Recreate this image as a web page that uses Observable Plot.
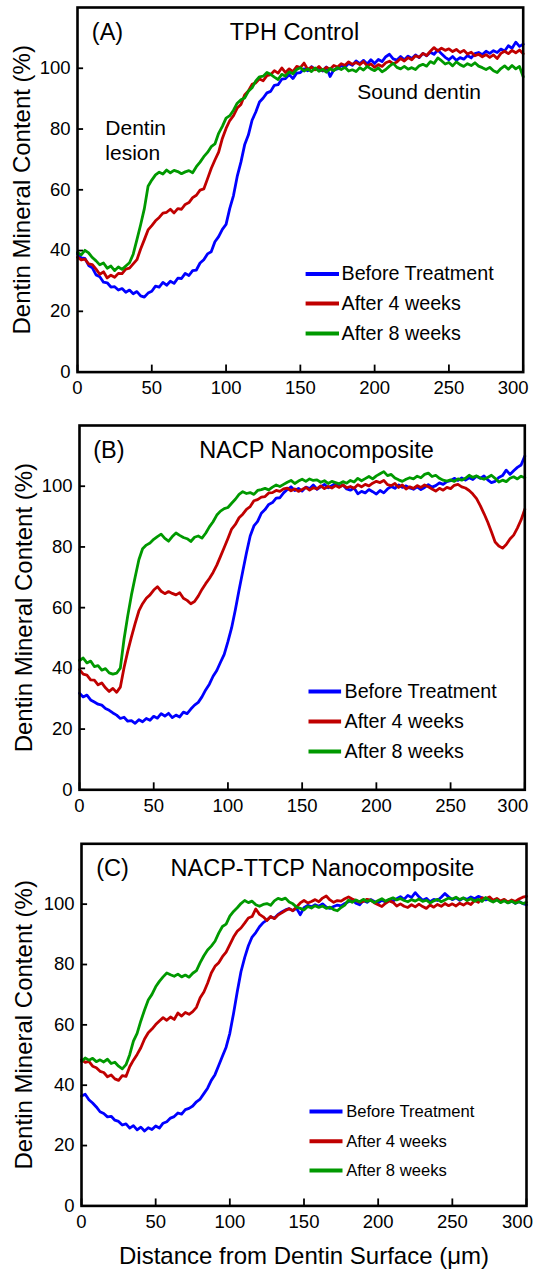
<!DOCTYPE html>
<html><head><meta charset="utf-8">
<script src="https://cdn.jsdelivr.net/npm/d3@7"></script>
<script src="https://cdn.jsdelivr.net/npm/@observablehq/plot@0.6"></script>
<style>
html,body{margin:0;padding:0;background:#fff;}
#chart{width:536px;}
#chart svg{display:block;overflow:visible;}
</style></head><body><div id="chart"></div>
<script>
// ---------- data ----------
const step = 2.5; // sampling interval (µm); values below start at x = 0
const seriesNames = ["Before Treatment", "After 4 weeks", "After 8 weeks"];
const seriesColors = ["#0000ff", "#c00000", "#009900"];
const xTicks = [0, 50, 100, 150, 200, 250, 300];
const yTicks = [0, 20, 40, 60, 80, 100];
const panelLetters = ["(A)", "(B)", "(C)"];
const panelTitles = ["TPH Control", "NACP Nanocomposite", "NACP-TTCP Nanocomposite"];
const annotationsA = ["Dentin", "lesion", "Sound dentin"];
const xLabel = "Distance from Dentin Surface (\u03bcm)";
const yLabel = "Dentin Mineral Content (%)";

const A_before = [
  38.9, 37.6, 37.4, 35.1, 34.3, 32.0, 31.4, 29.6, 29.4, 28.0,
  28.1, 27.0, 27.5, 26.3, 27.0, 25.8, 26.5, 25.1, 24.7, 26.0,
  26.6, 28.3, 28.0, 29.5, 28.6, 29.9, 29.2, 30.9, 30.8, 32.5,
  31.8, 33.4, 33.6, 35.9, 37.0, 38.9, 39.6, 42.9, 44.6, 47.0,
  48.6, 53.9, 58.1, 64.4, 69.1, 74.8, 78.0, 82.9, 85.6, 88.9,
  90.2, 91.9, 92.4, 94.4, 94.6, 96.4, 96.6, 97.9, 96.6, 98.4,
  98.6, 99.8, 99.2, 100.5, 99.6, 100.2, 99.1, 100.4, 97.3, 99.5,
  99.8, 100.9, 100.3, 101.6, 101.0, 102.4, 101.5, 102.6, 101.4, 102.8,
  101.6, 102.9, 102.2, 103.8, 104.6, 103.1, 102.7, 103.9, 102.8, 104.0,
  103.2, 104.4, 103.5, 104.9, 104.1, 105.3, 104.6, 106.0, 104.8, 103.6,
  102.8, 103.9, 102.6, 103.5, 103.0, 104.2, 103.4, 104.8, 105.2, 104.5,
  105.6, 104.9, 105.8, 105.2, 106.3, 105.7, 107.4, 106.6, 108.6, 107.2,
  107.9];
const A_week4 = [
  37.8, 36.9, 37.2, 35.6, 35.4, 33.9, 32.2, 33.0, 31.0, 31.9,
  31.2, 32.5, 32.4, 33.9, 34.2, 35.6, 37.0, 40.5, 43.6, 46.8,
  48.2, 49.8, 50.9, 52.3, 52.6, 53.6, 52.4, 53.8, 53.6, 55.2,
  55.8, 57.4, 58.2, 59.9, 60.3, 63.6, 67.0, 69.8, 72.4, 76.9,
  80.2, 82.8, 84.4, 86.9, 88.1, 91.2, 92.5, 94.7, 95.2, 96.5,
  95.9, 97.6, 97.9, 99.2, 98.4, 100.1, 98.6, 99.8, 98.9, 100.6,
  100.2, 101.7, 99.6, 100.4, 99.5, 100.6, 99.3, 100.3, 99.7, 100.9,
  100.4, 101.5, 101.0, 102.1, 101.3, 101.9, 101.2, 102.2, 100.8, 101.4,
  100.3, 101.2, 100.6, 101.8, 102.3, 101.5, 102.1, 103.2, 102.4, 103.5,
  102.8, 104.1, 103.6, 104.9, 104.2, 105.6, 106.8, 105.7, 106.6, 105.9,
  106.4, 105.5, 106.2, 105.2, 105.9, 104.7, 105.3, 104.1, 104.6, 103.8,
  104.5, 103.6, 104.4, 103.2, 104.9, 105.6, 104.8, 105.9, 105.1, 106.0,
  104.8];
const A_week8 = [
  39.4, 38.6, 40.1, 39.2, 37.7, 36.6, 35.3, 35.9, 34.2, 34.9,
  33.4, 34.6, 33.8, 34.9, 36.0, 38.8, 43.6, 48.5, 53.8, 61.2,
  63.2, 64.9, 65.8, 65.2, 66.5, 65.6, 66.4, 66.0, 65.3, 65.9,
  66.3, 65.6, 67.6, 69.1, 70.9, 72.3, 74.2, 75.1, 78.6, 80.9,
  83.6, 84.4, 86.2, 88.5, 89.6, 90.2, 92.4, 93.6, 95.8, 97.2,
  97.4, 98.6, 98.0, 97.1, 96.3, 98.0, 97.4, 98.8, 98.2, 99.6,
  100.2, 99.1, 99.8, 98.9, 100.1, 99.0, 99.6, 98.7, 99.9, 99.2,
  100.2, 99.6, 100.3, 99.1, 99.5, 98.9, 100.2, 99.4, 100.6, 99.8,
  99.2, 100.1, 98.8, 99.6, 100.7, 101.6, 100.3, 99.8, 100.6, 99.7,
  100.2, 99.6, 100.8, 101.3, 100.7, 102.2, 101.6, 103.4, 102.5, 101.4,
  101.9, 100.8, 102.1, 101.2, 100.6, 101.5, 100.9, 101.8, 100.7, 100.2,
  99.6, 100.3, 99.2, 98.6, 99.9, 100.8, 99.7, 100.9, 99.8, 100.6,
  97.2];

const B_before = [
  31.8, 30.6, 31.2, 29.6, 28.9, 28.2, 27.9, 26.8, 26.2, 25.3,
  24.6, 23.5, 23.9, 22.6, 22.8, 21.9, 23.1, 22.4, 23.5, 22.9,
  24.2, 23.6, 25.1, 24.3, 25.2, 23.8, 24.6, 24.0, 25.6, 25.1,
  26.6, 27.9, 28.8, 30.6, 32.9, 34.8, 37.4, 39.3, 42.0, 44.6,
  48.8, 53.4, 59.3, 65.8, 72.0, 78.1, 83.6, 86.9, 88.4, 91.1,
  92.3, 94.0, 94.6, 96.1, 96.2, 97.8, 98.9, 99.8, 98.6, 99.3,
  98.4, 99.7, 99.2, 100.4, 99.0, 99.8, 100.6, 99.5, 100.2, 100.9,
  99.8, 100.4, 99.1, 98.7, 99.4, 97.5, 98.3, 97.8, 98.9, 98.2,
  97.4, 98.6, 97.8, 99.1, 99.9, 99.3, 100.4, 99.6, 100.1, 99.4,
  99.0, 99.8, 98.9, 99.6, 100.5, 99.7, 100.2, 101.1, 100.6, 101.5,
  101.8, 102.6, 101.9, 102.7, 102.0, 102.8, 102.2, 103.3, 102.6, 103.4,
  102.1, 101.2, 101.6, 102.9, 103.5, 105.3, 103.9, 105.1, 106.2, 107.0,
  109.9];
const B_week4 = [
  39.6, 38.1, 37.8, 36.2, 36.1, 34.6, 35.2, 33.6, 32.4, 33.4,
  32.1, 33.8, 40.2, 45.6, 50.4, 54.8, 58.9, 61.3, 63.1, 64.2,
  65.8, 66.9, 65.4, 64.6, 65.3, 64.7, 64.2, 64.9, 63.1, 62.4,
  61.3, 62.0, 63.8, 66.0, 67.9, 69.6, 71.6, 74.0, 76.9, 79.8,
  82.8, 85.9, 87.4, 89.6, 90.8, 92.4, 93.3, 95.2, 95.6, 96.4,
  96.6, 97.8, 97.9, 98.6, 98.3, 99.1, 99.4, 98.5, 99.1, 98.3,
  98.9, 99.6, 98.7, 99.5, 99.1, 100.1, 99.2, 99.9, 99.4, 100.2,
  99.6, 100.4, 99.5, 99.9, 99.3, 100.5, 99.8, 100.6, 100.1, 101.0,
  101.6, 101.2, 101.9, 100.5, 100.2, 100.9, 99.6, 100.4, 99.1, 99.8,
  99.3, 100.2, 99.6, 100.4, 99.8, 99.1, 98.4, 99.3, 98.7, 99.6,
  99.2, 100.3, 100.6, 99.8, 99.4, 98.6, 97.4, 95.9, 93.6, 91.0,
  88.2, 85.0, 81.6, 80.3, 79.6, 80.8, 82.6, 83.9, 86.2, 88.9,
  92.4];
const B_week8 = [
  42.6, 43.4, 41.8, 42.4, 40.6, 40.9, 39.4, 39.9, 38.5, 38.1,
  38.4, 40.1, 49.6, 57.3, 64.2, 70.1, 75.8, 79.4, 80.6, 81.3,
  82.5, 83.4, 84.2, 82.8, 81.9, 83.4, 84.6, 83.8, 83.1, 82.7,
  81.8, 83.2, 83.6, 82.9, 84.5, 86.6, 88.3, 90.5, 91.8, 92.6,
  93.0, 94.4, 95.7, 97.3, 98.2, 97.6, 97.9, 97.3, 98.6, 98.9,
  99.3, 98.8, 99.7, 100.4, 99.9, 100.6, 101.3, 101.9, 100.9, 101.7,
  102.3, 101.6, 102.4, 101.9, 102.1, 101.3, 101.8, 100.9, 101.6, 101.2,
  100.8, 101.5, 101.0, 101.9, 101.4, 102.6, 101.8, 102.5, 103.2, 102.4,
  103.4, 104.1, 104.8, 103.5, 103.9, 102.7, 102.1, 101.6, 102.3, 102.8,
  102.4, 103.3, 102.8, 103.9, 104.3, 103.2, 103.6, 102.6, 102.0, 101.7,
  102.1, 101.6, 102.4, 102.0, 102.6, 103.6, 102.9, 103.4, 102.7, 102.3,
  102.9, 103.6, 102.6, 101.4, 102.0, 101.5, 102.6, 103.1, 102.4, 103.3,
  102.8];

const C_before = [
  36.4, 37.0, 35.2, 34.1, 32.8, 31.2, 30.6, 29.5, 29.7, 28.4,
  28.0, 26.8, 27.2, 25.8, 26.6, 25.2, 26.1, 24.8, 25.9, 25.3,
  26.5, 25.8, 27.4, 27.9, 29.1, 29.6, 30.8, 30.4, 31.9, 32.3,
  33.1, 34.5, 35.4, 37.2, 39.0, 41.6, 43.5, 46.5, 49.6, 52.6,
  57.2, 63.8, 71.0, 77.6, 82.3, 86.2, 89.1, 90.6, 92.5, 93.9,
  94.7, 95.8, 95.3, 96.6, 97.4, 98.1, 98.5, 97.9, 98.6, 96.5,
  98.8, 99.6, 99.1, 99.8, 99.3, 100.1, 99.0, 98.6, 99.2, 99.7,
  99.4, 100.2, 100.8, 101.4, 100.3, 99.8, 101.2, 100.6, 101.5, 100.9,
  100.4, 101.3, 100.7, 101.6, 101.0, 101.8, 102.5, 101.6, 102.9, 102.2,
  103.8, 102.4, 101.3, 101.9, 100.8, 101.6, 101.2, 102.3, 103.5, 102.4,
  101.5, 102.1, 101.3, 102.0, 101.6, 102.4, 101.8, 102.6, 102.1, 101.4,
  101.9, 101.0, 101.6, 100.8, 101.3, 100.5, 101.0, 100.3, 100.9, 100.2,
  99.8];
const C_week4 = [
  48.4, 47.6, 47.9, 46.3, 45.8, 44.6, 44.2, 42.8, 43.4, 42.1,
  41.6, 43.2, 42.9, 46.1, 48.3, 50.2, 52.4, 55.3, 57.4, 58.6,
  60.1, 61.3, 62.4, 61.5, 62.6, 61.8, 63.9, 62.9, 64.1, 63.5,
  64.4, 65.8, 69.0, 70.9, 73.8, 77.2, 79.4, 80.6, 82.6, 84.1,
  86.6, 89.1, 91.0, 92.1, 93.7, 95.4, 95.9, 98.4, 96.6, 95.8,
  94.6, 95.9, 95.2, 96.4, 97.1, 97.9, 98.5, 97.8, 99.1, 100.4,
  101.2, 100.4, 100.9, 101.5, 100.8, 102.0, 102.7, 101.4, 100.6, 101.2,
  101.0, 101.8, 102.4, 101.7, 101.2, 100.6, 100.9, 101.6, 101.3, 100.4,
  99.8, 99.2, 100.3, 101.1, 100.6, 99.4, 100.1, 99.3, 98.9, 99.8,
  99.1, 100.0, 99.2, 98.6, 99.7, 99.0, 99.9, 99.3, 100.2, 99.5,
  100.1, 99.4, 100.3, 99.7, 100.5, 99.9, 101.2, 100.6, 102.1, 101.8,
  102.4, 101.3, 101.9, 101.0, 101.6, 100.7, 101.4, 100.9, 101.7, 102.3,
  102.6];
const C_week8 = [
  47.9, 49.0, 48.3, 48.9, 47.8, 48.4, 47.7, 48.6, 47.2, 47.6,
  46.3, 45.4, 46.8, 50.1, 54.6, 57.2, 61.3, 64.9, 68.2, 70.1,
  72.6, 74.4, 75.9, 77.2, 76.6, 76.1, 76.8, 75.9, 76.5, 75.8,
  77.1, 78.0, 80.6, 82.9, 84.8, 86.1, 87.7, 90.4, 92.6, 93.4,
  96.0, 97.6, 98.8, 100.2, 101.2, 100.5, 101.0, 99.8, 99.3, 99.9,
  100.2, 99.6, 101.1, 101.9, 101.5, 102.0, 100.7, 100.1, 99.0, 98.6,
  98.1, 99.2, 98.7, 99.5, 98.9, 99.4, 98.6, 99.0, 98.2, 97.8,
  98.9, 99.7, 101.3, 100.6, 101.4, 100.8, 101.6, 100.9, 101.3, 100.5,
  101.2, 101.8, 101.0, 101.6, 102.1, 101.4, 101.9, 101.2, 100.8, 101.5,
  101.0, 101.7, 100.9, 101.3, 100.4, 101.1, 101.6, 100.8, 101.4, 102.0,
  101.7, 102.3, 101.5, 102.1, 101.2, 101.8, 101.0, 101.6, 100.9, 102.2,
  101.3, 100.7, 101.4, 100.5, 101.1, 100.4, 101.0, 100.3, 100.8, 100.2,
  100.6];

const panelSeries = [
  [A_before, A_week4, A_week8],
  [B_before, B_week4, B_week8],
  [C_before, C_week4, C_week8]
];

// ---------- layout (pixels) ----------
const layouts = [
  {h: 418, ml: 77, mr: 13.3, mt: 7, mb: 46.4, lastDx: -10,
   letter: [30, 25], title: [217, 25], swatch: 244.8, half: 16.7, legText: 264, rows: [266.5, 296, 326], legSize: 19.7, yLabDx: -55},
  {h: 418, ml: 79, mr: 11.7, mt: 7, mb: 46.7, lastDx: -12,
   letter: [29.4, 25.3], title: [237, 25.3], swatch: 245.3, half: 16.3, legText: 265, rows: [266, 296, 326], legSize: 19.7, yLabDx: -55},
  {h: 437, ml: 81, mr: 10, mt: 7.3, mb: 67.6, lastDx: -9,
   letter: [31, 24.7], title: [241, 24.7], swatch: 244.5, half: 16.5, legText: 264.7, rows: [267.7, 297.4, 326.7], legSize: 16.6, yLabDx: -57}
];

const FONT = "'Liberation Sans', Arial, Helvetica, sans-serif";

function hLine(half) {
  return {draw(ctx) { ctx.moveTo(-half, 0); ctx.lineTo(half, 0); }};
}

function makePanel(i) {
  const L = layouts[i];
  const rows = [];
  panelSeries[i].forEach((vals, s) =>
    vals.forEach((v, k) => rows.push({x: k * step, y: v, s: seriesNames[s]})));
  const lastTick = xTicks[xTicks.length - 1];

  const marks = [
    Plot.ruleX(xTicks, {x: d => d, y1: 0, y2: 2.3, stroke: "black", strokeWidth: 1.8}),
    Plot.ruleY(yTicks, {y: d => d, x1: 0, x2: 4.1, stroke: "black", strokeWidth: 1.8}),
    Plot.axisX({ticks: xTicks.slice(0, -1), tickSize: 0, tickPadding: 9, fontSize: 18.5, label: null}),
    Plot.axisX({ticks: [lastTick], tickSize: 0, tickPadding: 9, fontSize: 18.5, label: null, dx: L.lastDx}),
    Plot.axisY({ticks: yTicks, tickSize: 0, tickPadding: 7, fontSize: 18.5, label: null}),
    Plot.line(rows, {x: "x", y: "y", z: "s", stroke: "s", strokeWidth: 2.8, strokeLinejoin: "round"}),
    Plot.frame({stroke: "black", strokeWidth: 2.6}),
    Plot.text([yLabel], {frameAnchor: "left", rotate: -90, dx: L.yLabDx, fontSize: 24, textAnchor: "middle", lineAnchor: "middle"}),
    Plot.text([panelLetters[i]], {frameAnchor: "top-left", dx: L.letter[0], dy: L.letter[1], fontSize: 23.5, textAnchor: "middle", lineAnchor: "middle"}),
    Plot.text([panelTitles[i]], {frameAnchor: "top-left", dx: L.title[0], dy: L.title[1], fontSize: 23.5, textAnchor: "middle", lineAnchor: "middle"})
  ];
  seriesNames.forEach((name, k) => {
    marks.push(Plot.dot([name], {frameAnchor: "top-left", dx: L.swatch, dy: L.rows[k], symbol: hLine(L.half), stroke: seriesColors[k], strokeWidth: 4, fill: "none", r: 5}));
    marks.push(Plot.text([name], {frameAnchor: "top-left", dx: L.legText, dy: L.rows[k], fontSize: L.legSize, textAnchor: "start", lineAnchor: "middle"}));
  });
  if (i === 0) {
    marks.push(Plot.text([annotationsA[0]], {frameAnchor: "top-left", dx: 27.8, dy: 120.5, fontSize: 21, textAnchor: "start", lineAnchor: "middle"}));
    marks.push(Plot.text([annotationsA[1]], {frameAnchor: "top-left", dx: 27.8, dy: 145.7, fontSize: 21, textAnchor: "start", lineAnchor: "middle"}));
    marks.push(Plot.text([annotationsA[2]], {frameAnchor: "top-left", dx: 279.7, dy: 85, fontSize: 21, textAnchor: "start", lineAnchor: "middle"}));
  }
  if (i === 2) {
    marks.push(Plot.text([xLabel], {frameAnchor: "bottom", dy: 50.6, fontSize: 24, textAnchor: "middle", lineAnchor: "middle"}));
  }

  return Plot.plot({
    width: 536,
    height: L.h,
    marginLeft: L.ml, marginRight: L.mr, marginTop: L.mt, marginBottom: L.mb,
    style: {fontFamily: FONT, color: "black", background: "white", overflow: "visible"},
    x: {domain: [0, 300]},
    y: {domain: [0, 120]},
    color: {domain: seriesNames, range: seriesColors},
    marks
  });
}

const root = document.getElementById("chart");
[0, 1, 2].forEach(i => root.appendChild(makePanel(i)));
</script>
</body></html>
